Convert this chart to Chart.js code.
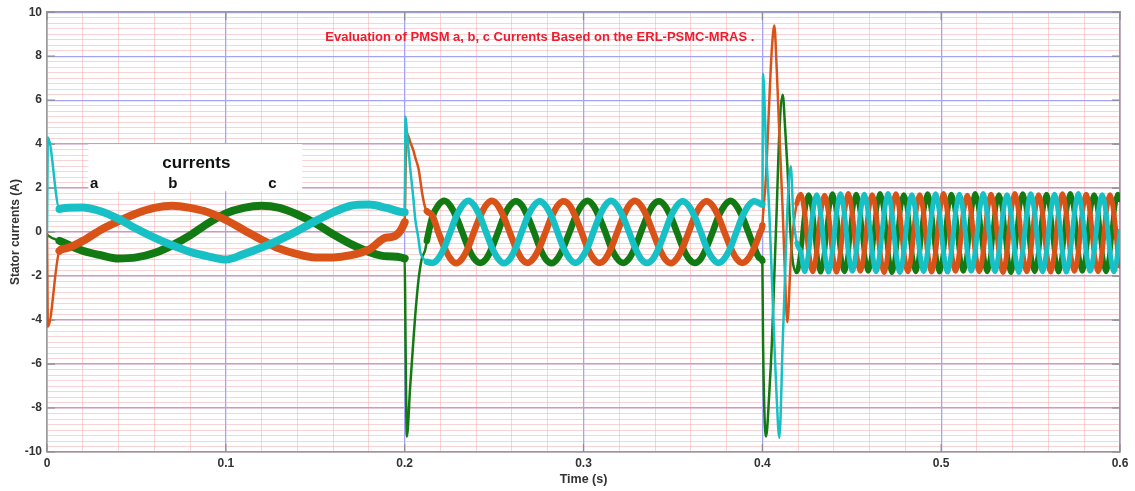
<!DOCTYPE html>
<html>
<head>
<meta charset="utf-8">
<title>Stator currents</title>
<script src="https://cdn.jsdelivr.net/npm/chart.js@4.4.1/dist/chart.umd.min.js"></script>
<style>
  html, body { margin: 0; padding: 0; background: #fff; }
  #wrap { width: 1135px; height: 491px; }
</style>
</head>
<body>
<div id="wrap"><canvas id="myChart" width="1135" height="491"></canvas></div>
<script>
// time (s) and phase currents (A), in three stretches

// start-up, 0 .. 0.2 s
const time1 = [0, 0.0005, 0.007, 0.01, 0.02, 0.03, 0.04, 0.05, 0.06, 0.07, 0.08, 0.09, 0.10,
  0.11, 0.12, 0.13, 0.14, 0.15, 0.16, 0.17, 0.18, 0.19, 0.20];
const ia1 = [0, -4.3, -0.85, -0.75, -0.4, 0.1, 0.5, 0.85, 1.1, 1.2, 1.1, 0.9, 0.55,
  0.1, -0.35, -0.75, -1.0, -1.15, -1.15, -1.05, -0.8, -0.25, 0.45];
const ib1 = [-0.1, -0.15, -0.4, -0.5, -0.85, -1.05, -1.2, -1.15, -0.95, -0.6, -0.15, 0.4, 0.85,
  1.1, 1.2, 1.1, 0.8, 0.4, -0.1, -0.55, -0.9, -1.1, -1.2];
const ic1 = [0, 4.3, 1.05, 1.1, 1.12, 0.95, 0.6, 0.15, -0.25, -0.6, -0.9, -1.1, -1.25,
  -1.0, -0.7, -0.35, 0.05, 0.5, 0.9, 1.2, 1.25, 1.1, 0.9];

// step at 0.2 s and second speed, 0.2 .. 0.4 s
const time2 = [0.2005, 0.2012, 0.2031, 0.2049, 0.2059, 0.2077, 0.2087, 0.2096, 0.2115, 0.2124,
  0.2155, 0.2188, 0.2222, 0.2255, 0.2288, 0.2322, 0.2355, 0.2388, 0.2422, 0.2455, 0.2488, 0.2522,
  0.2555, 0.2588, 0.2622, 0.2655, 0.2688, 0.2722, 0.2755, 0.2788, 0.2822, 0.2855, 0.2888, 0.2922,
  0.2955, 0.2988, 0.3022, 0.3055, 0.3088, 0.3122, 0.3155, 0.3188, 0.3222, 0.3255, 0.3288, 0.3322,
  0.3355, 0.3388, 0.3422, 0.3455, 0.3488, 0.3522, 0.3555, 0.3588, 0.3622, 0.3655, 0.3688, 0.3722,
  0.3755, 0.3788, 0.3822, 0.3855, 0.3888, 0.3922, 0.3955, 0.3988];
const ia2 = [2.8, 4.5, 4.1, 3.7, 3.4, 2.9, 2.4, 1.86, 1.1, 0.95,
  0.75, 0.0, -0.7, -1.2, -1.42, -1.2, -0.7, 0.02, 0.72, 1.22, 1.42, 1.2,
  0.68, -0.02, -0.72, -1.22, -1.4, -1.18, -0.68, 0.0, 0.7, 1.2, 1.4, 1.22,
  0.7, 0.02, -0.7, -1.2, -1.4, -1.22, -0.72, -0.02, 0.7, 1.22, 1.42, 1.2,
  0.7, 0.0, -0.7, -1.22, -1.42, -1.2, -0.7, 0.0, 0.72, 1.2, 1.4, 1.2,
  0.7, 0.0, -0.7, -1.2, -1.4, -1.2, -0.7, 0.0];
const ib2 = [-5.0, -9.3, -7.0, -4.9, -3.8, -2.2, -1.6, -1.2, -0.8, -0.4,
  0.7, 1.22, 1.42, 1.2, 0.7, 0.0, -0.7, -1.2, -1.4, -1.22, -0.72, 0.0,
  0.72, 1.2, 1.4, 1.22, 0.7, 0.02, -0.7, -1.22, -1.42, -1.2, -0.7, 0.0,
  0.7, 1.2, 1.42, 1.2, 0.68, 0.0, -0.72, -1.2, -1.4, -1.2, -0.7, 0.02,
  0.7, 1.22, 1.4, 1.2, 0.7, 0.0, -0.7, -1.2, -1.4, -1.22, -0.7, 0.0,
  0.72, 1.2, 1.42, 1.2, 0.7, 0.0, -0.7, -1.2];
const ic2 = [5.25, 4.6, 2.9, 1.5, 0.6, -0.3, -0.9, -1.1, -1.3, -1.35,
  -1.4, -1.2, -0.7, 0.0, 0.7, 1.2, 1.42, 1.22, 0.7, 0.0, -0.7, -1.2,
  -1.42, -1.22, -0.7, 0.02, 0.72, 1.2, 1.4, 1.2, 0.7, 0.0, -0.72, -1.2,
  -1.4, -1.2, -0.72, 0.0, 0.7, 1.22, 1.42, 1.2, 0.68, 0.0, -0.7, -1.22,
  -1.4, -1.22, -0.7, 0.0, 0.7, 1.2, 1.4, 1.2, 0.7, 0.02, -0.7, -1.2,
  -1.4, -1.2, -0.7, 0.0, 0.7, 1.2, 1.4, 1.3];

// step at 0.4 s and third speed, 0.4 .. 0.6 s
const time3 = [0.4, 0.4004, 0.4021, 0.4039, 0.4053, 0.4067, 0.408, 0.4095, 0.4114, 0.4127, 0.414, 0.4159, 0.4173, 0.4193,
  0.4215, 0.4237, 0.4259, 0.4282, 0.4304, 0.4326,
  0.4348, 0.4370, 0.4392, 0.4415, 0.4437, 0.4459,
  0.4481, 0.4503, 0.4525, 0.4548, 0.4570, 0.4592,
  0.4614, 0.4636, 0.4658, 0.4681, 0.4703, 0.4725,
  0.4747, 0.4769, 0.4791, 0.4814, 0.4836, 0.4858,
  0.4880, 0.4902, 0.4924, 0.4947, 0.4969, 0.4991,
  0.5013, 0.5035, 0.5057, 0.5080, 0.5102, 0.5124,
  0.5146, 0.5168, 0.5190, 0.5213, 0.5235, 0.5257,
  0.5279, 0.5301, 0.5323, 0.5346, 0.5368, 0.5390,
  0.5412, 0.5434, 0.5456, 0.5479, 0.5501, 0.5523,
  0.5545, 0.5567, 0.5589, 0.5612, 0.5634, 0.5656,
  0.5678, 0.5700, 0.5722, 0.5745, 0.5767, 0.5789,
  0.5811, 0.5833, 0.5855, 0.5878, 0.5900, 0.5922,
  0.5944, 0.5966, 0.5988, 0.6];
const ia3 = [0.3, 0.8, 2.6, 6.0, 8.3, 9.4, 7.5, 4.5, 0.95, -2.0, -4.1, -1.2, 0.2, 1.3,
  1.72, 0.86, -0.9, -1.8, -0.88, 0.85,
  1.68, 0.84, -0.92, -1.82, -0.9, 0.86,
  1.75, 0.85, -0.88, -1.78, -0.9, 0.84,
  1.7, 0.86, -0.9, -1.84, -0.92, 0.85,
  1.74, 0.84, -0.9, -1.8, -0.88, 0.86,
  1.7, 0.85, -0.92, -1.82, -0.9, 0.84,
  1.76, 0.86, -0.9, -1.78, -0.9, 0.85,
  1.68, 0.85, -0.88, -1.8, -0.92, 0.86,
  1.72, 0.84, -0.9, -1.84, -0.9, 0.85,
  1.75, 0.86, -0.92, -1.8, -0.88, 0.84,
  1.7, 0.85, -0.9, -1.82, -0.9, 0.86,
  1.74, 0.84, -0.88, -1.78, -0.92, 0.85,
  1.72, 0.86, -0.9, -1.8, -0.9, 0.84,
  1.7, 0.85, -0.9, -1.55];
const ib3 = [-1.3, -5.0, -9.3, -7.3, -5.1, -2.0, 0.95, 4.5, 6.25, 4.8, 3.0, -0.3, -1.5, -1.8,
  -0.9, 0.85, 1.7, 0.86, -0.9, -1.82,
  -0.88, 0.84, 1.74, 0.85, -0.92, -1.8,
  -0.9, 0.86, 1.72, 0.84, -0.9, -1.78,
  -0.92, 0.85, 1.76, 0.86, -0.88, -1.84,
  -0.9, 0.84, 1.7, 0.85, -0.9, -1.8,
  -0.88, 0.86, 1.74, 0.84, -0.92, -1.82,
  -0.9, 0.85, 1.72, 0.86, -0.9, -1.78,
  -0.92, 0.84, 1.75, 0.85, -0.88, -1.8,
  -0.9, 0.86, 1.7, 0.84, -0.9, -1.84,
  -0.88, 0.85, 1.74, 0.86, -0.92, -1.8,
  -0.9, 0.84, 1.72, 0.85, -0.9, -1.82,
  -0.92, 0.86, 1.76, 0.84, -0.88, -1.78,
  -0.9, 0.85, 1.7, 0.86, -0.9, -1.8,
  -0.9, 0.85, 1.72, 1.47];
const ic3 = [1.25, 7.2, 3.8, 0.9, -2.0, -5.0, -7.5, -9.35, -5.0, -2.0, 1.0, 3.0, 0.8, -0.5,
  -0.9, -1.8, -0.92, 0.85, 1.7, 0.86,
  -0.9, -1.82, -0.88, 0.86, 1.74, 0.84,
  -0.92, -1.78, -0.9, 0.84, 1.72, 0.85,
  -0.88, -1.8, -0.9, 0.85, 1.76, 0.86,
  -0.9, -1.84, -0.92, 0.86, 1.7, 0.84,
  -0.92, -1.8, -0.88, 0.84, 1.74, 0.85,
  -0.9, -1.82, -0.9, 0.85, 1.72, 0.86,
  -0.88, -1.78, -0.92, 0.86, 1.75, 0.84,
  -0.9, -1.8, -0.9, 0.84, 1.7, 0.85,
  -0.92, -1.84, -0.88, 0.85, 1.74, 0.86,
  -0.9, -1.8, -0.9, 0.86, 1.72, 0.84,
  -0.88, -1.82, -0.92, 0.84, 1.76, 0.85,
  -0.9, -1.78, -0.9, 0.85, 1.7, 0.86,
  -0.9, -1.8, -0.9, 0.05];

const xTicks = [0, 0.1, 0.2, 0.3, 0.4, 0.5, 0.6];
const yTicks = [-10, -8, -6, -4, -2, 0, 2, 4, 6, 8, 10];
const phaseLabels = ["a", "b", "c"];

const time = time1.concat(time2, time3);
const ia = ia1.concat(ia2, ia3);
const ib = ib1.concat(ib2, ib3);
const ic = ic1.concat(ic2, ic3);

const FONT = "'Liberation Sans', Arial, sans-serif";
Chart.defaults.font.family = FONT;

function points(vals) {
  return time.map((t, i) => ({ x: t, y: vals[i] }));
}

// thin lines during the transients, thick noisy bands in steady state
function segWidth(ctx) {
  const t0 = ctx.p0.parsed.x, t1 = ctx.p1.parsed.x;
  if (t1 <= 0.0071 || (t0 >= 0.2 && t1 <= 0.2124) || (t0 >= 0.4 && t1 <= 0.4193)) return 2.5;
  if (t1 <= 0.2) return 8;
  if (t1 <= 0.4) return 6.5;
  return 5;
}

function series(label, vals, color, order) {
  return {
    label,
    data: points(vals),
    borderColor: color,
    borderWidth: 6,
    pointRadius: 0,
    fill: false,
    order,
    cubicInterpolationMode: "monotone",
    borderCapStyle: "round",
    borderJoinStyle: "round",
    segment: { borderWidth: segWidth }
  };
}

const decor = {
  id: "decor",
  beforeDatasetsDraw(chart) {
    const { ctx, chartArea: a, scales } = chart;
    const x = scales.x, y = scales.y;
    ctx.save();

    // inward tick marks on all four sides
    ctx.strokeStyle = "#8c8c8c";
    ctx.lineWidth = 1.2;
    ctx.beginPath();
    xTicks.forEach(v => {
      const px = x.getPixelForValue(v);
      ctx.moveTo(px, a.bottom); ctx.lineTo(px, a.bottom - 8);
      ctx.moveTo(px, a.top); ctx.lineTo(px, a.top + 8);
    });
    yTicks.forEach(v => {
      const py = y.getPixelForValue(v);
      ctx.moveTo(a.left, py); ctx.lineTo(a.left + 8, py);
      ctx.moveTo(a.right, py); ctx.lineTo(a.right - 8, py);
    });
    ctx.stroke();

    // white legend box
    const bx0 = x.getPixelForValue(0.0231), bx1 = x.getPixelForValue(0.1427);
    const by0 = y.getPixelForValue(4.0), by1 = y.getPixelForValue(1.86);
    ctx.fillStyle = "#ffffff";
    ctx.fillRect(bx0, by0, bx1 - bx0, by1 - by0);

    ctx.fillStyle = "#111";
    ctx.textAlign = "center";
    ctx.textBaseline = "alphabetic";
    ctx.font = "bold 17px " + FONT;
    ctx.fillText("currents", x.getPixelForValue(0.0835), y.getPixelForValue(2.92));
    ctx.font = "bold 15px " + FONT;
    const labelX = [0.0264, 0.0703, 0.126];
    phaseLabels.forEach((s, i) => ctx.fillText(s, x.getPixelForValue(labelX[i]), y.getPixelForValue(2.0)));

    // red caption inside the plot
    ctx.fillStyle = "#ee1c2e";
    ctx.textAlign = "left";
    ctx.font = "bold 13px " + FONT;
    ctx.fillText("Evaluation of PMSM a, b, c Currents Based on the ERL-PSMC-MRAS .",
      x.getPixelForValue(0.1556), y.getPixelForValue(8.7));
    ctx.restore();
  }
};

const tickFont = { size: 12, weight: "bold", family: FONT };

const config = {
  type: "line",
  data: {
    datasets: [
      series("a", ia, "#d95319", 1),
      series("b", ib, "#127a12", 2),
      series("c", ic, "#17c0c4", 0)
    ]
  },
  options: {
    responsive: false,
    animation: false,
    layout: { padding: { top: 11, right: 15, left: 0, bottom: 0 } },
    plugins: { legend: { display: false }, tooltip: { enabled: false } },
    scales: {
      x: {
        type: "linear",
        min: 0,
        max: 0.6,
        position: "bottom",
        afterBuildTicks: s => { s.ticks = xTicks.map(v => ({ value: v })); },
        ticks: {
          padding: 4,
          color: "#333",
          font: tickFont,
          callback: v => String(+v.toFixed(2))
        },
        grid: { color: "#a4a4f6", lineWidth: 1.3, drawTicks: false },
        border: { color: "#9a9a9a", width: 1.5 },
        title: {
          display: true,
          text: "Time (s)",
          color: "#333",
          font: { size: 12.5, weight: "bold", family: FONT },
          padding: { top: 0, bottom: 4 }
        },
        afterFit: s => { s.height = 39; }
      },
      y: {
        type: "linear",
        min: -10,
        max: 10,
        position: "left",
        afterBuildTicks: s => { s.ticks = yTicks.map(v => ({ value: v })); },
        ticks: { padding: 5, color: "#333", font: tickFont },
        grid: { color: "#a4a4f6", lineWidth: 1.3, drawTicks: false },
        border: { color: "#9a9a9a", width: 1.5 },
        title: {
          display: true,
          text: "Stator currents (A)",
          color: "#333",
          font: { size: 12, weight: "bold", family: FONT },
          padding: { top: 8, bottom: 0 }
        },
        afterFit: s => { s.width = 47; }
      },
      xMinor: {
        type: "linear",
        min: 0,
        max: 0.6,
        position: "top",
        ticks: { display: false, stepSize: 0.02, maxTicksLimit: 100 },
        grid: { color: "rgba(245,160,160,0.45)", lineWidth: 1, drawTicks: false, z: -2 },
        border: { color: "#9a9a9a", width: 1.5 },
        afterFit: s => { s.height = 0; }
      },
      yMinor: {
        type: "linear",
        min: -10,
        max: 10,
        position: "right",
        ticks: { display: false, stepSize: 0.25, maxTicksLimit: 100 },
        grid: { color: "rgba(245,160,160,0.45)", lineWidth: 1, drawTicks: false, z: -2 },
        border: { color: "#9a9a9a", width: 1.5 },
        afterFit: s => { s.width = 0; }
      }
    }
  },
  plugins: [decor]
};

new Chart(document.getElementById("myChart"), config);
</script>
</body>
</html>
